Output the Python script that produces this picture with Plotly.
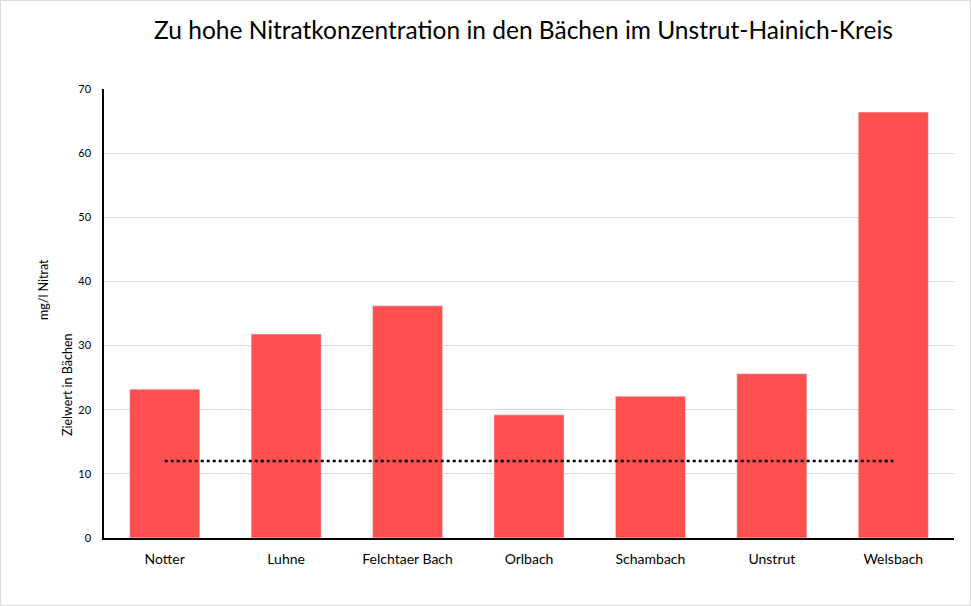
import plotly.graph_objects as go

categories = ["Notter", "Luhne", "Felchtaer Bach", "Orlbach", "Schambach", "Unstrut", "Welsbach"]
nitrat = [23.2, 31.8, 36.2, 19.2, 22.1, 25.6, 66.4]
zielwert = [12, 12, 12, 12, 12, 12, 12]
y_ticks = [0, 10, 20, 30, 40, 50, 60, 70]

FONT = "Lato"
W, H = 971, 606
ML, MR, MT, MB = 104, 17, 89, 68
pw = W - ML - MR
ph = H - MT - MB


def px_x(px):
    return (px - ML) / pw


def px_y(py):
    return (H - MB - py) / ph


fig = go.Figure()
fig.add_trace(go.Bar(x=categories, y=nitrat, marker_color="#ff5050", width=0.577,
                     showlegend=False))
fig.add_trace(go.Scatter(x=categories, y=zielwert, mode="lines",
                         line=dict(color="black", width=2.5, dash="dot"),
                         showlegend=False))

fig.update_layout(
    width=W, height=H,
    paper_bgcolor="white", plot_bgcolor="white",
    margin=dict(l=ML, r=MR, t=MT, b=MB),
    font=dict(family=FONT, color="black"),
    title=dict(text="Zu hohe Nitratkonzentration in den Bächen im Unstrut-Hainich-Kreis",
               x=523.5 / W, xanchor="center", y=1 - 30 / H, yanchor="middle",
               font=dict(size=24.5, family=FONT, color="black")),
    xaxis=dict(showline=True, linecolor="black", linewidth=1.5, ticks="",
               tickfont=dict(size=14), showgrid=False, ticklabelstandoff=7),
    yaxis=dict(range=[0, 70], tickvals=y_ticks, showline=True, linecolor="black",
               linewidth=1.5, gridcolor="#d9d9d9", gridwidth=1, ticks="",
               tickfont=dict(size=11), ticklabelstandoff=9, zeroline=False),
    annotations=[
        dict(text="mg/l Nitrat", textangle=-90, x=px_x(43), y=px_y(290),
             xref="paper", yref="paper", xanchor="center", yanchor="middle",
             showarrow=False, font=dict(size=12.5)),
        dict(text="Zielwert in Bächen", textangle=-90, x=px_x(67), y=px_y(385),
             xref="paper", yref="paper", xanchor="center", yanchor="middle",
             showarrow=False, font=dict(size=12.5)),
    ],
    shapes=[dict(type="rect", xref="paper", yref="paper",
                 x0=px_x(0.5), x1=px_x(W - 0.5), y0=px_y(H - 0.5), y1=px_y(0.5),
                 line=dict(color="#d9d9d9", width=1), layer="below")],
)

fig.write_html("out.html", config={"displayModeBar": False},
               post_script="document.body.style.margin='0px';")
